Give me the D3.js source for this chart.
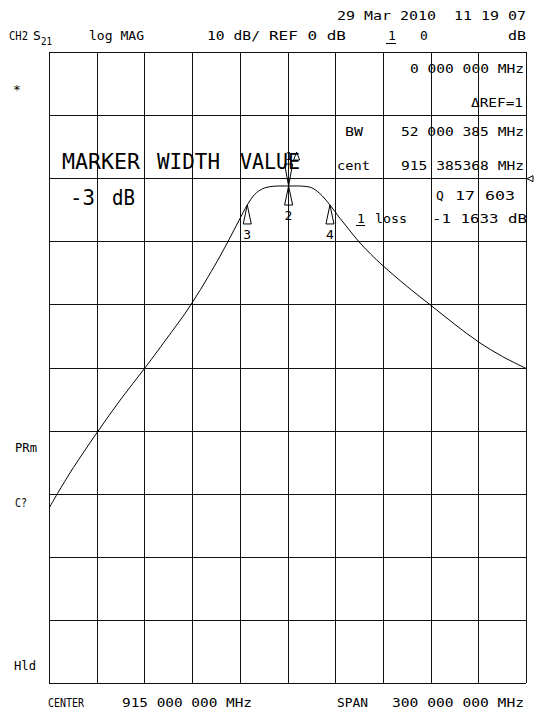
<!DOCTYPE html>
<html>
<head>
<meta charset="utf-8">
<script src="https://cdn.jsdelivr.net/npm/d3@7"></script>
<style>
  body { margin: 0; background: #fff; }
  svg text { font-family: "DejaVu Sans Mono", monospace; fill: #000; white-space: pre; }
</style>
</head>
<body>
<script>
// S21 trace (MHz, dB)
const freqMHz = [765, 770, 780, 795, 810, 825, 840, 845, 850, 855, 860, 865, 872, 878, 884, 889.4, 894, 899, 905,
  915.4, 925, 930, 935, 941.4, 947, 953, 959.3, 967, 975, 990, 1005, 1020, 1035, 1050, 1065];
const s21dB = [-52.1, -49.9, -45.8, -40.2, -34.9, -30.0, -24.9, -23.2, -21.45, -19.55, -17.55, -15.45, -12.4, -9.6, -6.7, -4.16, -2.5, -1.6, -1.22,
  -1.16, -1.2, -1.45, -2.35, -4.16, -6.05, -7.95, -9.9, -11.95, -13.85, -17.1, -20.1, -23.1, -25.9, -28.2, -30.1];

// markers
const markerNames = ['1', '2', '3', '4'];
const markerFreq = [915.385, 915.385, 889.385, 941.385];
const markerDB = [-1.163, -1.163, -4.163, -4.163];

// graticule: 10 div x 30 MHz, 10 div x 10 dB, ref 0 dB
const gridFreq = [765, 795, 825, 855, 885, 915, 945, 975, 1005, 1035, 1065];
const gridDB = [20, 10, 0, -10, -20, -30, -40, -50, -60, -70, -80];

const headerText = ['29 Mar 2010  11 19 07', 'CH2', 'S', '21', 'log MAG', '10 dB/', 'REF 0 dB', '1', '0', 'dB'];
const readoutText = ['0 000 000 MHz', '\u0394REF=1', 'BW', '52 000 385 MHz', 'cent', '915 385368 MHz', 'Q', '17 603', '1', 'loss', '-1 1633 dB'];
const bigText = ['MARKER', 'WIDTH', 'VALUE', '-3', 'dB'];
const statusText = ['*', 'PRm', 'C?', 'Hld'];
const footerText = ['CENTER', '915 000 000 MHz', 'SPAN', '300 000 000 MHz'];

const width = 537, height = 712;

const svg = d3.select('body')
  .append('svg')
  .attr('width', width)
  .attr('height', height);

svg.append('rect').attr('width', width).attr('height', height).attr('fill', '#fff');

// axis adds its own 0.5 offset at dpr 1
const x = d3.scaleLinear().domain([765, 1065]).range([49, 526]);
const y = d3.scaleLinear().domain([20, -80]).range([52, 683]);

const plotH = y(-80) - y(20);
const plotW = x(1065) - x(765);

// vertical grid lines
svg.append('g')
  .attr('transform', `translate(0,${y(-80)})`)
  .call(d3.axisBottom(x).tickValues(gridFreq).tickSize(-plotH).tickFormat(''))
  .call(g => g.select('.domain').remove())
  .selectAll('line')
  .attr('stroke', '#111')
  .attr('shape-rendering', 'crispEdges');

// horizontal grid lines
svg.append('g')
  .attr('transform', `translate(${x(765)},0)`)
  .call(d3.axisLeft(y).tickValues(gridDB).tickSize(-plotW).tickFormat(''))
  .call(g => g.select('.domain').remove())
  .selectAll('line')
  .attr('stroke', '#111')
  .attr('shape-rendering', 'crispEdges');

// the trace
const pts = freqMHz.map((f, i) => [f, s21dB[i]]);
const line = d3.line()
  .x(d => x(d[0]) + 0.5)
  .y(d => y(d[1]) + 0.5)
  .curve(d3.curveCatmullRom.alpha(0.5));

svg.append('path')
  .datum(pts)
  .attr('d', line)
  .attr('fill', 'none')
  .attr('stroke', '#000')
  .attr('stroke-width', 1);

// reference position arrow on the right edge
const ry = y(0) + 0.5, rx = x(1065) + 1;
svg.append('path')
  .attr('d', `M${rx},${ry}L${rx + 6},${ry - 3}L${rx + 6},${ry + 3}Z`)
  .attr('fill', 'none').attr('stroke', '#000').attr('stroke-width', 1);

// markers
markerNames.forEach((n, i) => {
  const mx = x(markerFreq[i]) + 0.5, my = y(markerDB[i]) + 0.5;
  if (n === '1') {
    svg.append('path')
      .attr('d', `M${mx},${my}L${mx - 4},${my - 22}L${mx + 4},${my - 22}Z`)
      .attr('fill', 'none').attr('stroke', '#000');
    svg.append('text').attr('x', mx - 3).attr('y', my - 26).attr('font-size', 11).text(n);
    svg.append('path')
      .attr('d', `M${mx + 8},${my - 34}L${mx + 5},${my - 26}L${mx + 11},${my - 26}Z`)
      .attr('fill', 'none').attr('stroke', '#000');
  } else {
    svg.append('path')
      .attr('d', `M${mx},${my}L${mx - 4},${my + 19}L${mx + 4},${my + 19}Z`)
      .attr('fill', 'none').attr('stroke', '#000');
    svg.append('text').attr('x', mx - 4).attr('y', my + 34).attr('font-size', 13).text(n);
  }
});

function label(str, x0, yb, len, size) {
  const t = svg.append('text')
    .attr('x', x0).attr('y', yb)
    .attr('font-size', size || 13)
    .text(str);
  if (len) t.attr('textLength', len).attr('lengthAdjust', 'spacingAndGlyphs');
  return t;
}

function underline(x0, x1, yy) {
  svg.append('line').attr('x1', x0).attr('x2', x1).attr('y1', yy).attr('y2', yy)
    .attr('stroke', '#000').attr('shape-rendering', 'crispEdges');
}

// header
label(headerText[0], 337, 20, 189);
label(headerText[1], 9, 40, 19);
label(headerText[2], 33, 40);
label(headerText[3], 41, 44.5, 11, 11);
label(headerText[4], 89, 40, 55);
label(headerText[5], 207, 40, 53);
label(headerText[6], 269, 40, 77);
label(headerText[7], 388, 40);
underline(386, 396, 43.5);
label(headerText[8], 420, 40);
label(headerText[9], 508, 40, 18);

// marker readout block
label(readoutText[0], 410, 73, 114);
label(readoutText[1], 471, 107, 52);
label(readoutText[2], 345, 136, 18);
label(readoutText[3], 401, 136, 123);
label(readoutText[4], 337, 170, 33);
label(readoutText[5], 401, 170, 123);
label(readoutText[6], 436, 200);
label(readoutText[7], 455, 200, 60);
label(readoutText[8], 357, 223);
underline(356, 365, 225.5);
label(readoutText[9], 375, 223, 32);
label(readoutText[10], 432, 223, 95);

// large marker function text
label(bigText[0], 62, 169, 78, 21);
label(bigText[1], 157, 169, 63, 21);
label(bigText[2], 240, 169, 60, 21);
label(bigText[3], 70, 205, 25, 21);
label(bigText[4], 112, 205, 23, 21);

// status column
label(statusText[0], 13, 94);
label(statusText[1], 15, 452, 22);
label(statusText[2], 15, 507, 12);
label(statusText[3], 14, 670, 22);

// footer
label(footerText[0], 48, 707, 36);
label(footerText[1], 122, 707, 130);
label(footerText[2], 337, 707, 31);
label(footerText[3], 392, 707, 132);
</script>
</body>
</html>
